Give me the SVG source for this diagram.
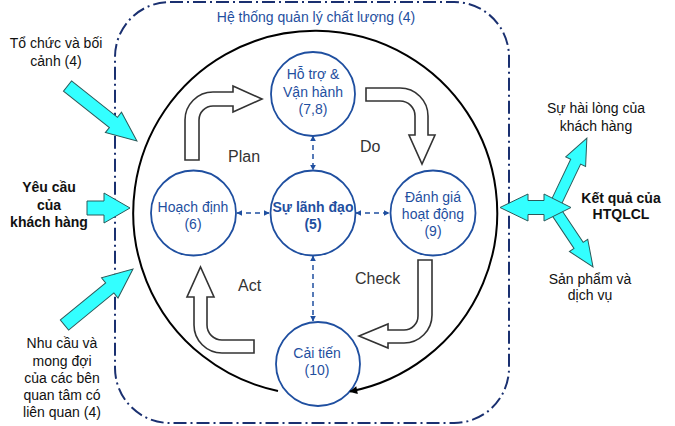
<svg xmlns="http://www.w3.org/2000/svg" width="675" height="426" viewBox="0 0 675 426">
<style>
text{font-family:"Liberation Sans",Arial,sans-serif;font-size:14px;text-anchor:middle;fill:#111}
.b{font-weight:bold}
.blue{fill:#1f4fa0}
.pdca{font-size:16px;fill:#333;text-anchor:start}
.node{fill:#fff;stroke:#1f4fa0;stroke-width:1.8}
.blk{fill:#fff;stroke:#333;stroke-width:1.6;stroke-linejoin:miter}
.cy{fill:#33ffff;stroke:#2b5a5a;stroke-width:1}
.dash{fill:none;stroke:#1f4fa0;stroke-width:1.5;stroke-dasharray:5 4;marker-start:url(#ba);marker-end:url(#ba)}
</style>
<defs>
<marker id="ba" viewBox="0 0 10 10" refX="9" refY="5" markerWidth="4" markerHeight="4" orient="auto-start-reverse" markerUnits="strokeWidth"><path d="M0 0L10 5L0 10Z" fill="#1f4fa0"/></marker>
<marker id="ka" viewBox="0 0 10 10" refX="9" refY="5" markerWidth="5" markerHeight="4" orient="auto" markerUnits="strokeWidth"><path d="M0 0L10 5L0 10Z" fill="#000"/></marker>
</defs>
<rect id="qms-frame" x="115" y="2" width="394" height="421" rx="55" fill="none" stroke="#1a3070" stroke-width="2" stroke-dasharray="13 4 2 4"/>
<text class="blue" x="316" y="22">Hệ thống quản lý chất lượng (4)</text>
<g id="pdca-arrows">
<path class="blk" d="M185 160L185 120A28 28 0 0 1 213 92L233 92L233 86L262 99L233 112L233 106L213 106A14 14 0 0 0 199 120L199 160Z"/>
<path class="blk" d="M366 88L400 88A28 28 0 0 1 428 116L428 135L435 135L422 164L409 135L415 135L415 116A15 15 0 0 0 400 101L366 101Z"/>
<path class="blk" d="M418 260L432 260L432 315A28 28 0 0 1 404 343L388 343L388 348L359 336L388 324L388 330L404 330A14 14 0 0 0 418 316Z"/>
<path class="blk" d="M254 340L254 353L222 353A28 28 0 0 1 194 325L194 297L187 297L200.5 267L214 297L207 297L207 325A15 15 0 0 0 222 340Z"/>
</g>
<text class="pdca" x="228" y="162">Plan</text>
<text class="pdca" x="360" y="152">Do</text>
<text class="pdca" x="355" y="284">Check</text>
<text class="pdca" x="238" y="291">Act</text>
<g id="connectors">
<line class="dash" x1="237" y1="213" x2="269" y2="213"/>
<line class="dash" x1="356" y1="213" x2="389" y2="213"/>
<line class="dash" x1="313" y1="136" x2="313" y2="170"/>
<line class="dash" x1="313" y1="256" x2="313" y2="321"/>
</g>
<g id="node-support"><circle class="node" cx="313" cy="94" r="42"/><text class="blue" x="313" y="79">Hỗ trợ &amp;</text><text class="blue" x="313" y="97">Vận hành</text><text class="blue" x="313" y="114">(7,8)</text></g>
<g id="node-planning"><circle class="node" cx="193.5" cy="213" r="42.5"/><text class="blue" x="193" y="212">Hoạch định</text><text class="blue" x="193" y="229">(6)</text></g>
<g id="node-leadership"><circle class="node" cx="313" cy="213" r="42.5"/><text class="blue b" x="313" y="212">Sự lãnh đạo</text><text class="blue b" x="313" y="229">(5)</text></g>
<g id="node-evaluation"><circle class="node" cx="433" cy="213" r="42.5"/><text class="blue" x="433" y="202">Đánh giá</text><text class="blue" x="433" y="219">hoạt động</text><text class="blue" x="433" y="236">(9)</text></g>
<g id="node-improvement"><circle class="node" cx="318" cy="364" r="42"/><text class="blue" x="317" y="358">Cải tiến</text><text class="blue" x="317" y="375">(10)</text></g>
<path id="cycle" d="M278 391A182 182 0 1 1 350 391.5" fill="none" stroke="#000" stroke-width="2" marker-end="url(#ka)"/>
<g id="inputs">
<polygon class="cy" transform="translate(67.5 86) rotate(38.4)" points="0,-6.5 58.6,-6.5 58.6,-13 88.6,0 58.6,13 58.6,6.5 0,6.5"/>
<polygon class="cy" points="87,201 104,201 104,193 130,208 104,223 104,215 87,215"/>
<polygon class="cy" transform="translate(64.5 325) rotate(-39.3)" points="0,-6.5 58.5,-6.5 58.5,-13 88.5,0 58.5,13 58.5,6.5 0,6.5"/>
</g>
<g id="outputs">
<polygon class="cy" transform="translate(555 205) rotate(-64.5)" points="0,-5.5 48,-5.5 48,-11 74,0 48,11 48,5.5 0,5.5"/>
<polygon class="cy" transform="translate(555 210) rotate(56.3)" points="0,-5.5 42.5,-5.5 42.5,-11 68.5,0 42.5,11 42.5,5.5 0,5.5"/>
<polygon class="cy" points="500,207.5 528,194 528,200.5 544,200.5 544,194 571,207.5 544,221 544,214.5 528,214.5 528,221"/>
</g>
<text x="56" y="48">Tổ chức và bối</text>
<text x="56" y="66">cảnh (4)</text>
<text class="b" x="49" y="192">Yêu cầu</text>
<text class="b" x="49" y="209.5">của</text>
<text class="b" x="49" y="227">khách hàng</text>
<text x="62" y="348">Nhu cầu và</text>
<text x="62" y="366">mong đợi</text>
<text x="62" y="383">của các bên</text>
<text x="62" y="400">quan tâm có</text>
<text x="62" y="417">liên quan (4)</text>
<text x="596" y="113">Sự hài lòng của</text>
<text x="596" y="131">khách hàng</text>
<text class="b" x="621" y="203">Kết quả của</text>
<text class="b" x="621" y="219">HTQLCL</text>
<text x="590" y="284">Sản phẩm và</text>
<text x="590" y="300">dịch vụ</text>
</svg>
